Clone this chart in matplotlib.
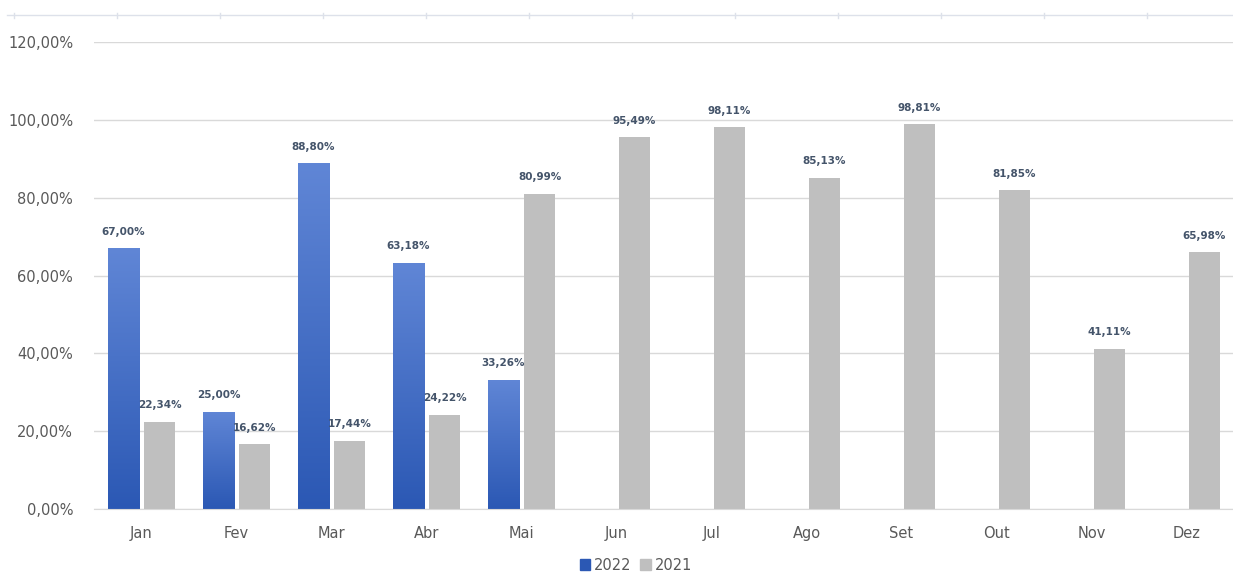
import matplotlib.pyplot as plt
import numpy as np
from matplotlib.patches import Patch

# Data
months = ['Jan', 'Fev', 'Mar', 'Abr', 'Mai', 'Jun', 'Jul', 'Ago', 'Set', 'Out', 'Nov', 'Dez']
v2022 = [67.00, 25.00, 88.80, 63.18, 33.26]
v2021 = [22.34, 16.62, 17.44, 24.22, 80.99, 95.49, 98.11, 85.13, 98.81, 81.85, 41.11, 65.98]
yticks = [0, 20, 40, 60, 80, 100, 120]

blue_top = np.array([0x60, 0x86, 0xD6]) / 255
blue_bot = np.array([0x2B, 0x58, 0xB4]) / 255
gray = '#BFBFBF'
label_color = '#44546A'

fig = plt.figure(figsize=(12.33, 5.8), dpi=100)
ax = fig.add_axes([94 / 1233, 1 - 509 / 580, 1139 / 1233, 467 / 580])

x = np.arange(len(months))
w = 0.33
off = 0.19

# gradient image for blue bars
grad = np.linspace(0, 1, 256)[:, None]
cmap_img = blue_bot[None, :] * (1 - grad[..., None]) + blue_top[None, :] * grad[..., None]
cmap_img = np.repeat(cmap_img, 2, axis=1)

for i, v in enumerate(v2022):
    bar = ax.bar(x[i] - off, v, width=w, color=blue_bot, zorder=2)[0]
    im = ax.imshow(cmap_img, extent=[x[i] - off - w / 2, x[i] - off + w / 2, 0, v],
                   origin='lower', aspect='auto', zorder=2.1)
    im.set_clip_path(bar)
    ax.text(x[i] - off, v + 3, f'{v:.2f}%'.replace('.', ','), ha='center', va='bottom',
            fontsize=7.5, fontweight='bold', color=label_color, zorder=3)

for i, v in enumerate(v2021):
    ax.bar(x[i] + off, v, width=w, color=gray, zorder=2)
    ax.text(x[i] + off, v + 3, f'{v:.2f}%'.replace('.', ','), ha='center', va='bottom',
            fontsize=7.5, fontweight='bold', color=label_color, zorder=3)

ax.set_xlim(-0.5, 11.49)
ax.set_ylim(0, 120)
ax.set_yticks(yticks)
ax.set_yticklabels([f'{t},00%' for t in yticks], fontsize=10.5, color='#595959')
ax.set_xticks(x)
ax.set_xticklabels(months, fontsize=10.5, color='#595959')
ax.tick_params(length=0, pad=12)
ax.tick_params(axis='y', pad=15)
ax.grid(axis='y', color='#D9D9D9', linewidth=1, zorder=0)
for s in ['top', 'right', 'left']:
    ax.spines[s].set_visible(False)
ax.spines['bottom'].set_color('#D9D9D9')

# faint line with small ticks at top of image
ytop = 1 - 15 / 580
fig.add_artist(plt.Line2D([7 / 1233, 1], [ytop] * 2, color='#DDE1EA', linewidth=1))
for px in np.arange(14, 1233, 103):
    fig.add_artist(plt.Line2D([px / 1233] * 2, [ytop - 3 / 580, ytop + 2 / 580],
                              color='#DDE1EA', linewidth=1))

handles = [Patch(color=blue_bot, label='2022'), Patch(color=gray, label='2021')]
fig.legend(handles=handles, loc='center', bbox_to_anchor=(636 / 1233, 1 - 565 / 580), ncol=2,
           frameon=False, fontsize=10.5, handlelength=0.7, handleheight=0.7,
           handletextpad=0.3, columnspacing=0.6, labelcolor='#595959')

fig.savefig('out.png', dpi=100)
